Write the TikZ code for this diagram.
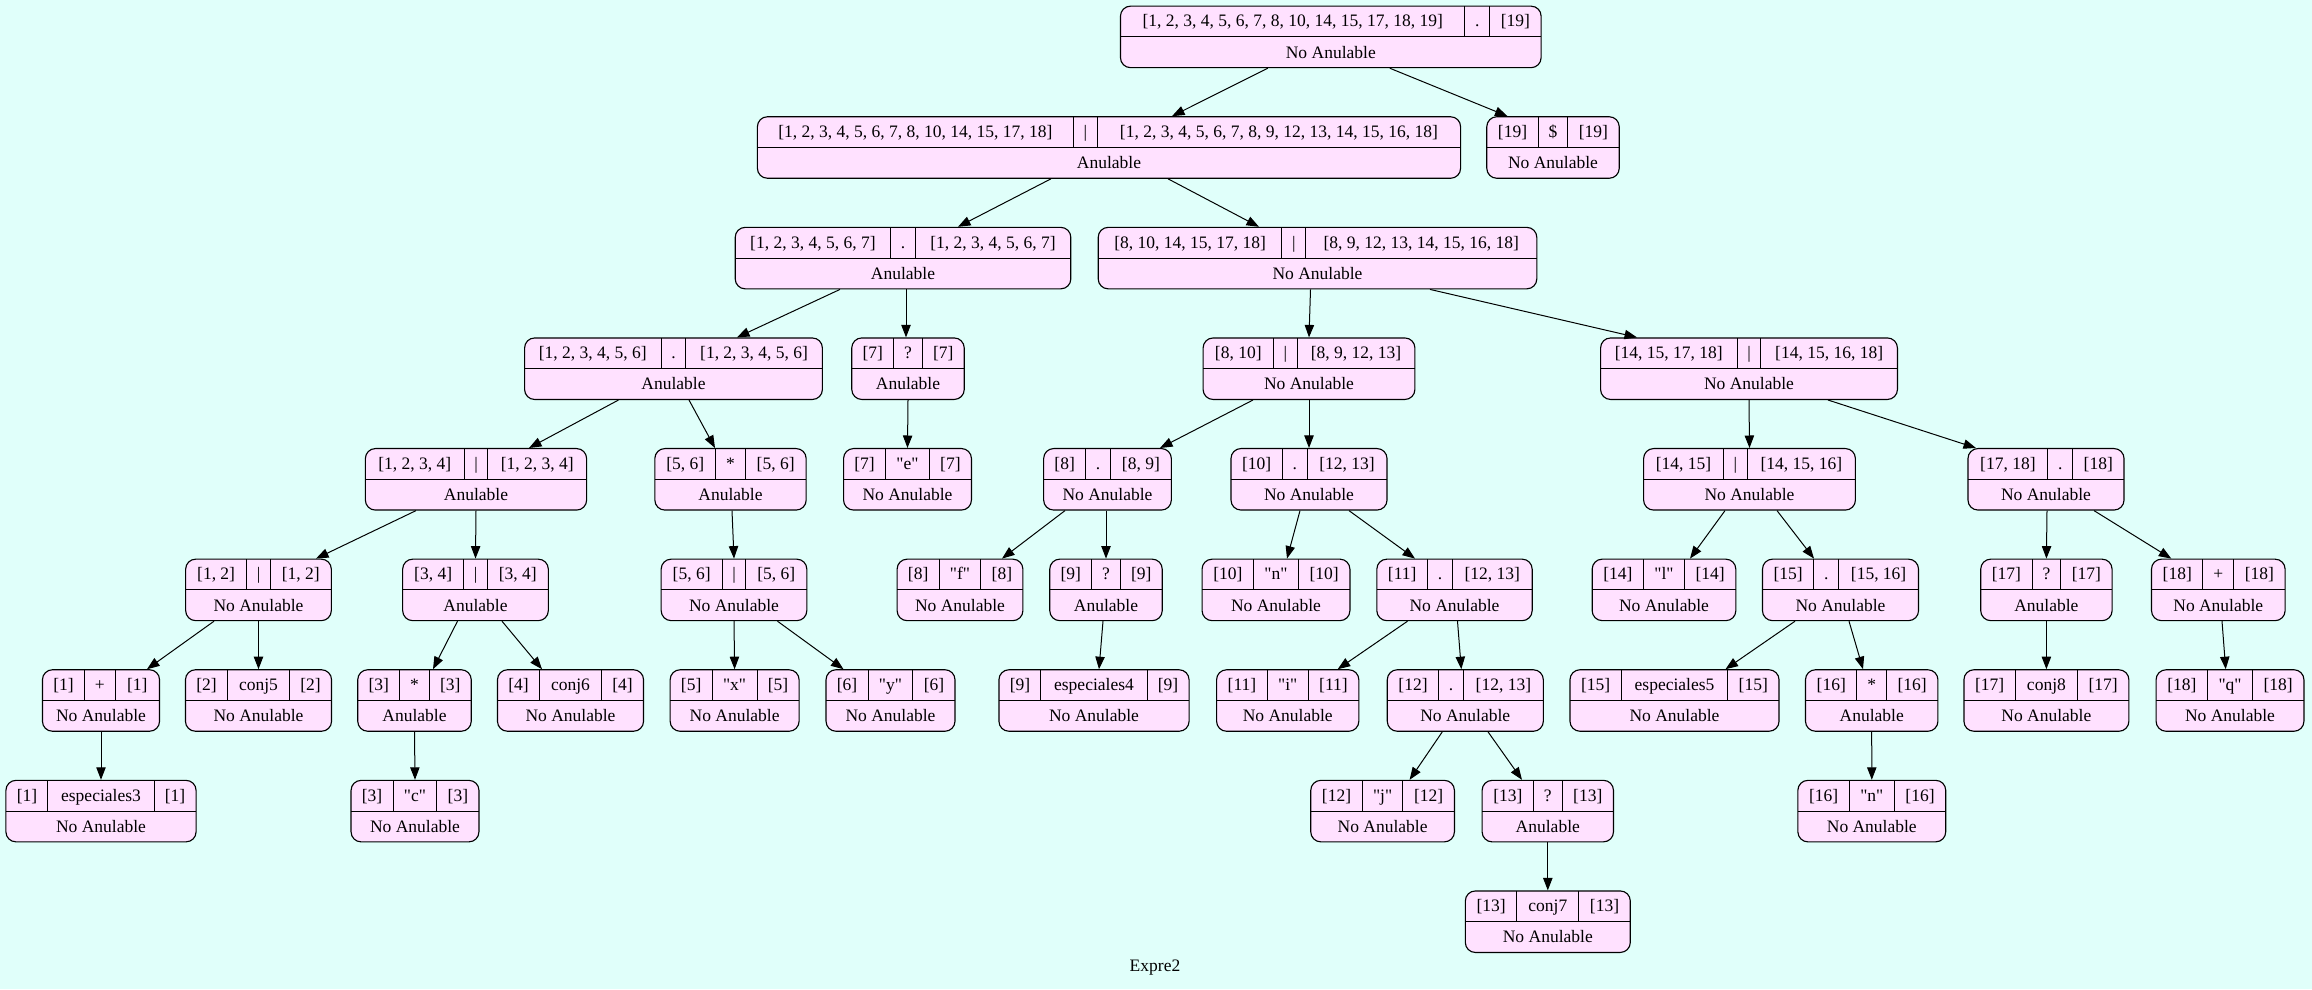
\documentclass[tikz,border=0pt]{standalone}
\usepackage{fontspec}
\setmainfont{Liberation Serif}[Ligatures=TeXOff]
\usetikzlibrary{calc,arrows.meta}
\definecolor{bgc}{HTML}{E0FFFA}
\definecolor{nodefill}{HTML}{FFE1FF}
\newlength\fwid
\newcommand\fldx[1]{\settowidth\fwid{#1}\makebox[1.08\fwid][c]{#1}}
\newcommand\rowstrut{\rule[-7.6pt]{0pt}{24.2pt}}
\newcommand\recnode[4]{%
  \setlength\tabcolsep{8pt}\setlength\arrayrulewidth{0.8pt}%
  \begin{tabular}{c|c|c}\rowstrut\fldx{#1}&\fldx{#2}&\fldx{#3}\\\hline
  \multicolumn{3}{c}{\rowstrut\fldx{#4}}\end{tabular}}
\newcommand\edg[4]{\draw[arr] ($(#1.south)+(#2,0)$) -- ($(#3.north)+(#4,0)$);}
\begin{document}
\begin{tikzpicture}[x=0.8pt,y=-0.8pt,
  rec/.style={draw=black,line width=0.9pt,fill=nodefill,rounded corners=8pt,inner sep=0pt,
    font=\fontsize{14pt}{16.8pt}\selectfont},
  arr/.style={line width=0.8pt,-{Triangle[length=10pt,width=7.5pt]}}]
\fill[bgc] (0,0) rectangle (2312,989);
\useasboundingbox (0,0) rectangle (2312,989);
% row 1
\node[rec] (n1) at (1330.8,36.9) {\recnode{[1, 2, 3, 4, 5, 6, 7, 8, 10, 14, 15, 17, 18, 19]}{.}{[19]}{No Anulable}};
% row 2
\node[rec] (n2) at (1109,147.5) {\recnode{[1, 2, 3, 4, 5, 6, 7, 8, 10, 14, 15, 17, 18]}{|}{[1, 2, 3, 4, 5, 6, 7, 8, 9, 12, 13, 14, 15, 16, 18]}{Anulable}};
\node[rec] (n3) at (1553,147.5) {\recnode{[19]}{\$}{[19]}{No Anulable}};
% row 3
\node[rec] (n4) at (903,258.1) {\recnode{[1, 2, 3, 4, 5, 6, 7]}{.}{[1, 2, 3, 4, 5, 6, 7]}{Anulable}};
\node[rec] (n5) at (1317.5,258.1) {\recnode{[8, 10, 14, 15, 17, 18]}{|}{[8, 9, 12, 13, 14, 15, 16, 18]}{No Anulable}};
% row 4
\node[rec] (n6) at (673.5,368.7) {\recnode{[1, 2, 3, 4, 5, 6]}{.}{[1, 2, 3, 4, 5, 6]}{Anulable}};
\node[rec] (n7) at (908,368.7) {\recnode{[7]}{?}{[7]}{Anulable}};
\node[rec] (n8) at (1309,368.7) {\recnode{[8, 10]}{|}{[8, 9, 12, 13]}{No Anulable}};
\node[rec] (n9) at (1749,368.7) {\recnode{[14, 15, 17, 18]}{|}{[14, 15, 16, 18]}{No Anulable}};
% row 5
\node[rec] (n10) at (476,479.3) {\recnode{[1, 2, 3, 4]}{|}{[1, 2, 3, 4]}{Anulable}};
\node[rec] (n11) at (730.5,479.3) {\recnode{[5, 6]}{*}{[5, 6]}{Anulable}};
\node[rec] (n12) at (907.5,479.3) {\recnode{[7]}{"e"}{[7]}{No Anulable}};
\node[rec] (n13) at (1107.5,479.3) {\recnode{[8]}{.}{[8, 9]}{No Anulable}};
\node[rec] (n14) at (1309,479.3) {\recnode{[10]}{.}{[12, 13]}{No Anulable}};
\node[rec] (n15) at (1749.5,479.3) {\recnode{[14, 15]}{|}{[14, 15, 16]}{No Anulable}};
\node[rec] (n16) at (2046,479.3) {\recnode{[17, 18]}{.}{[18]}{No Anulable}};
% row 6
\node[rec] (n17) at (258.5,589.9) {\recnode{[1, 2]}{|}{[1, 2]}{No Anulable}};
\node[rec] (n18) at (475.5,589.9) {\recnode{[3, 4]}{|}{[3, 4]}{Anulable}};
\node[rec] (n19) at (734,589.9) {\recnode{[5, 6]}{|}{[5, 6]}{No Anulable}};
\node[rec] (n20) at (960,589.9) {\recnode{[8]}{"f"}{[8]}{No Anulable}};
\node[rec] (n21) at (1106,589.9) {\recnode{[9]}{?}{[9]}{Anulable}};
\node[rec] (n22) at (1276,589.9) {\recnode{[10]}{"n"}{[10]}{No Anulable}};
\node[rec] (n23) at (1454.5,589.9) {\recnode{[11]}{.}{[12, 13]}{No Anulable}};
\node[rec] (n24) at (1664,589.9) {\recnode{[14]}{"l"}{[14]}{No Anulable}};
\node[rec] (n25) at (1840.5,589.9) {\recnode{[15]}{.}{[15, 16]}{No Anulable}};
\node[rec] (n26) at (2046.4,589.9) {\recnode{[17]}{?}{[17]}{Anulable}};
\node[rec] (n27) at (2218.3,589.9) {\recnode{[18]}{+}{[18]}{No Anulable}};
% row 7
\node[rec] (n28) at (101,700.5) {\recnode{[1]}{+}{[1]}{No Anulable}};
\node[rec] (n29) at (258.5,700.5) {\recnode{[2]}{conj5}{[2]}{No Anulable}};
\node[rec] (n30) at (414.5,700.5) {\recnode{[3]}{*}{[3]}{Anulable}};
\node[rec] (n31) at (570.5,700.5) {\recnode{[4]}{conj6}{[4]}{No Anulable}};
\node[rec] (n32) at (734.6,700.5) {\recnode{[5]}{"x"}{[5]}{No Anulable}};
\node[rec] (n33) at (890.5,700.5) {\recnode{[6]}{"y"}{[6]}{No Anulable}};
\node[rec] (n34) at (1094,700.5) {\recnode{[9]}{especiales4}{[9]}{No Anulable}};
\node[rec] (n35) at (1287.7,700.5) {\recnode{[11]}{"i"}{[11]}{No Anulable}};
\node[rec] (n36) at (1465.3,700.5) {\recnode{[12]}{.}{[12, 13]}{No Anulable}};
\node[rec] (n37) at (1674.5,700.5) {\recnode{[15]}{especiales5}{[15]}{No Anulable}};
\node[rec] (n38) at (1871.7,700.5) {\recnode{[16]}{*}{[16]}{Anulable}};
\node[rec] (n39) at (2046.4,700.5) {\recnode{[17]}{conj8}{[17]}{No Anulable}};
\node[rec] (n40) at (2230,700.5) {\recnode{[18]}{"q"}{[18]}{No Anulable}};
% row 8
\node[rec] (n41) at (101,811.1) {\recnode{[1]}{especiales3}{[1]}{No Anulable}};
\node[rec] (n42) at (415,811.1) {\recnode{[3]}{"c"}{[3]}{No Anulable}};
\node[rec] (n43) at (1382.6,811.1) {\recnode{[12]}{"j"}{[12]}{No Anulable}};
\node[rec] (n44) at (1547.8,811.1) {\recnode{[13]}{?}{[13]}{Anulable}};
\node[rec] (n45) at (1871.8,811.1) {\recnode{[16]}{"n"}{[16]}{No Anulable}};
% row 9
\node[rec] (n46) at (1547.8,921.7) {\recnode{[13]}{conj7}{[13]}{No Anulable}};
% label
\node[font=\fontsize{14pt}{16.8pt}\selectfont,inner sep=0pt] (lbl) at (1155,968) {Expre2};
% edges
\edg{n1}{-63}{n2}{63}
\edg{n1}{59}{n3}{-45.5}
\edg{n2}{-58}{n4}{55}
\edg{n2}{59}{n5}{-58.5}
\edg{n4}{-63}{n6}{63.5}
\edg{n4}{3}{n7}{-2}
\edg{n5}{-7}{n8}{0}
\edg{n5}{112.5}{n9}{-112}
\edg{n6}{-55}{n10}{53}
\edg{n6}{15.5}{n11}{-15.5}
\edg{n7}{0}{n12}{0}
\edg{n8}{-56}{n13}{52.5}
\edg{n8}{0}{n14}{0}
\edg{n9}{0}{n15}{0}
\edg{n9}{79}{n16}{-70}
\edg{n10}{-60}{n17}{57.5}
\edg{n10}{0}{n18}{0}
\edg{n11}{1.5}{n19}{0}
\edg{n13}{-42.5}{n20}{42}
\edg{n13}{-1.5}{n21}{0}
\edg{n14}{-9}{n22}{11}
\edg{n14}{40}{n23}{-39.5}
\edg{n15}{-24.5}{n24}{26}
\edg{n15}{27.5}{n25}{-26.5}
\edg{n16}{1}{n26}{0}
\edg{n16}{48}{n27}{-47}
\edg{n17}{-44.5}{n28}{46}
\edg{n17}{0}{n29}{0}
\edg{n18}{-18}{n30}{18.5}
\edg{n18}{26.5}{n31}{-28.5}
\edg{n19}{0}{n32}{0}
\edg{n19}{43.5}{n33}{-47}
\edg{n21}{-3}{n34}{5}
\edg{n23}{-47}{n35}{50}
\edg{n23}{3}{n36}{-4}
\edg{n25}{-45.5}{n37}{51}
\edg{n25}{8.5}{n38}{-8.7}
\edg{n26}{0}{n39}{0}
\edg{n27}{3.7}{n40}{-4.3}
\edg{n28}{0}{n41}{0}
\edg{n30}{0}{n42}{0}
\edg{n36}{-23}{n43}{27}
\edg{n36}{22.7}{n44}{-25.8}
\edg{n44}{0}{n46}{0}
\edg{n38}{0}{n45}{0}
\end{tikzpicture}
\end{document}
